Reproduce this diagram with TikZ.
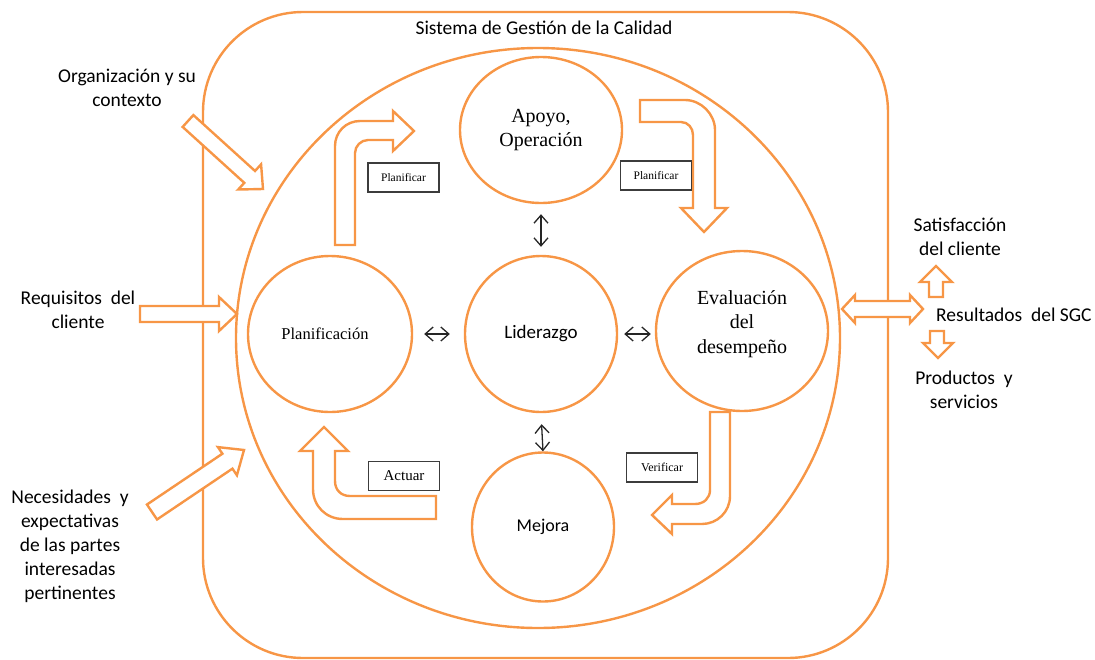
\documentclass[tikz,border=0pt]{standalone}
\usepackage{fontspec}
\setmainfont{Liberation Serif}
\newfontfamily\calib{Carlito}
\usetikzlibrary{shapes.geometric,arrows.meta,calc}
\definecolor{org}{RGB}{247,150,70}
\definecolor{dk}{RGB}{60,60,60}
\tikzset{
 ring/.style={draw=org,line width=2.4pt,ellipse,inner sep=0pt,align=center},
 blk/.style={draw=org,line width=2.4pt,fill=white,line join=miter},
 tag/.style={draw=dk,line width=1.4pt,fill=white,minimum width=71pt,minimum height=29pt,inner sep=0pt},
 lab/.style={font=\calib\fontsize{19.5}{24}\selectfont,align=center,inner sep=0pt},
 ser/.style={font=\fontsize{20}{24.5}\selectfont},
 dbl/.style={{Straight Barb[length=8pt,width=14pt]}-{Straight Barb[length=8pt,width=14pt]},line width=1.3pt,draw=black!85}
}
\newcommand\blockarr[5]{%
 \path ($(#2)!#5!(#1)$) coordinate (ba-b);
 \draw[blk] ($(#1)!#3!90:(#2)$) -- ($(ba-b)!#3!-90:(#1)$) -- ($(ba-b)!#4!-90:(#1)$) -- (#2)
   -- ($(ba-b)!#4!90:(#1)$) -- ($(ba-b)!#3!90:(#1)$) -- ($(#1)!#3!-90:(#2)$) -- cycle;}
\begin{document}
\begin{tikzpicture}[x=1pt,y=-1pt]
\useasboundingbox (0,0) rectangle (1095,659);
% outer system frame
\draw[org,line width=2.4pt,rounded corners=100pt] (203,12) rectangle (888,658);
\node[lab] (title) at (544,28) {Sistema de Gestión de la Calidad};
% big cycle
\node[ring,minimum width=604pt,minimum height=580pt] (sgc) at (538,338) {};
% process circles
\node[ring,ser,minimum width=162pt,minimum height=146pt] (apoyo) at (541,130) {Apoyo,\\Operación};
\node[ring,minimum width=164pt,minimum height=156pt] (plan) at (330,334) {};
\node[inner sep=0pt,font=\fontsize{16.5}{20}\selectfont] (plantxt) at ([xshift=-5pt]plan.center) {Planificación};
\node[ring,minimum width=152pt,minimum height=156pt,font=\calib\fontsize{19}{24}\selectfont] (lid) at (541,334) {Liderazgo};
\node[ring,minimum width=172pt,minimum height=160pt] (eval) at (742,331) {};
\node[ser,align=center,inner sep=0pt] (evaltxt) at ([yshift=7pt]eval.center) {Evaluación\\del\\desempeño};
\node[ring,minimum width=142pt,minimum height=149pt,font=\calib\fontsize{18}{24}\selectfont] (mejora) at (543,527) {Mejora};
% links to leadership
\draw[dbl,shorten <=10pt,shorten >=8pt] (apoyo.south) -- (lid.north);
\draw[dbl,shorten <=11pt,shorten >=0pt] (lid.south) -- (mejora.north);
\draw[dbl,shorten <=11pt,shorten >=14pt] (plan.east |- lid.west) -- (lid.west);
\draw[dbl,shorten <=6pt,shorten >=4pt] (lid.east) -- (eval.west |- lid.east);
% PDCA bent arrows
\draw[blk] (335,245) -- (335,146) .. controls (335,132) and (346,121) .. (360,121) -- (393,121) -- (393,111) -- (414,131)
  -- (393,151) -- (393,140) -- (368,140) .. controls (361,140) and (355,146) .. (355,153) -- (355,245) -- cycle;
\draw[blk] (640,100) -- (685,100) .. controls (701,100) and (715,114) .. (715,130) -- (715,208) -- (727,208) -- (704,232)
  -- (681,208) -- (693,208) -- (693,135) .. controls (693,128) and (688,122) .. (681,122) -- (640,122) -- cycle;
\draw[blk] (730,412) -- (730,496) .. controls (730,512) and (717,524) .. (702,524) -- (672,524) -- (672,534) -- (652,515)
  -- (672,495) -- (672,504) -- (695,504) .. controls (704,504) and (710,498) .. (710,490) -- (710,412) -- cycle;
\draw[blk] (436,496) -- (350,496) .. controls (341,496) and (335,490) .. (335,481) -- (335,451) -- (348,451) -- (324,427)
  -- (300,451) -- (313,451) -- (313,489) .. controls (313,506) and (326,519) .. (343,519) -- (436,519) -- cycle;
% PDCA tags
\node[tag,font=\fontsize{11.5}{12}\selectfont] (t1) at (403.5,177.5) {Planificar};
\node[tag,font=\fontsize{11.5}{12}\selectfont] (t2) at (656,175.5) {Planificar};
\node[tag,font=\fontsize{12}{12}\selectfont] (t3) at (662,467.5) {Verificar};
\node[tag,font=\fontsize{15}{15}\selectfont] (t4) at (404,476) {Actuar};
% inputs
\node[lab] (in1) at (127,88) {Organización y su\\contexto};
\node[lab] (in2) at (78,310) {Requisitos~ del\\cliente};
\node[lab] (in3) at (70,546) {Necesidades~ y\\expectativas\\de las partes\\interesadas\\pertinentes};
\coordinate (a1t) at (188,121); \coordinate (a1p) at (263,189);
\blockarr{a1t}{a1p}{8pt}{17pt}{18pt}
\coordinate (a2t) at (140,314); \coordinate (a2p) at (237,314);
\blockarr{a2t}{a2p}{8pt}{17pt}{18pt}
\coordinate (a3t) at (152,512); \coordinate (a3p) at (244,450);
\blockarr{a3t}{a3p}{9pt}{17pt}{20pt}
% outputs
\draw[blk] (842,309) -- (855,295) -- (855,301) -- (910,301) -- (910,295) -- (923,309) -- (910,323) -- (910,317)
  -- (855,317) -- (855,323) -- cycle;
\draw[blk] (936,266) -- (952,282) -- (943,282) -- (943,297) -- (929,297) -- (929,282) -- (920,282) -- cycle;
\draw[blk] (938,358) -- (953,343) -- (944,343) -- (944,331) -- (930,331) -- (930,343) -- (923,343) -- cycle;
\node[lab] (out1) at (960,237) {Satisfacción\\del cliente};
\node[lab,anchor=west] (res) at (936,315) {Resultados~ del SGC};
\node[lab] (out2) at (964,390) {Productos~ y\\servicios};
\end{tikzpicture}
\end{document}
